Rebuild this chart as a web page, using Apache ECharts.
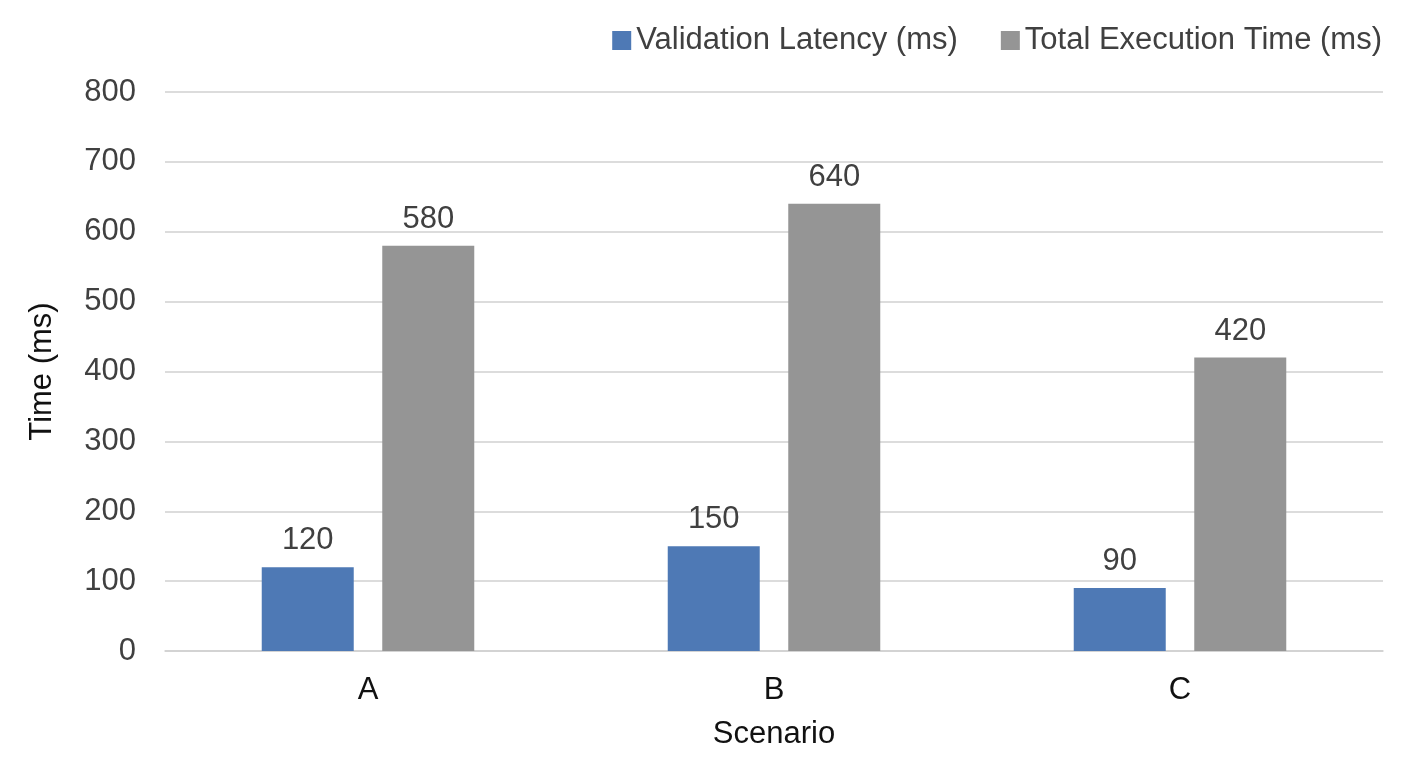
<!DOCTYPE html>
<html>
<head>
<meta charset="utf-8">
<script src="https://cdn.jsdelivr.net/npm/echarts@6/dist/echarts.min.js"></script>
<style>
  html, body { margin: 0; padding: 0; background: #fff; }
  #chart { width: 1408px; height: 768px; }
</style>
</head>
<body>
<div id="chart"></div>
<script>
const scenarios = ['A', 'B', 'C']
const validationLatency = [120, 150, 90]
const totalExecution = [580, 640, 420]
const yTicks = { min: 0, max: 800, interval: 100 }

const font = 'Liberation Sans, Arial, sans-serif'
const textColor = '#404040'
const fs = 31

const chart = echarts.init(document.getElementById('chart'))
chart.setOption({
  animation: false,
  textStyle: { fontFamily: font },
  legend: {
    top: 20,
    right: 21,
    itemWidth: 19,
    itemHeight: 19,
    itemGap: 43,
    icon: 'rect',
    textStyle: { fontSize: fs, color: textColor, fontFamily: font }
  },
  grid: { left: 165, right: 25, top: 92, bottom: 117 },
  xAxis: {
    type: 'category',
    data: scenarios,
    name: 'Scenario',
    nameLocation: 'middle',
    nameGap: 68,
    nameTextStyle: { fontSize: fs, color: '#111', fontFamily: font },
    axisLine: { lineStyle: { color: '#d0d0d0', width: 1.5 } },
    axisTick: { show: false },
    axisLabel: { fontSize: fs, color: '#111', margin: 24, fontFamily: font }
  },
  yAxis: {
    type: 'value',
    min: yTicks.min,
    max: yTicks.max,
    interval: yTicks.interval,
    name: 'Time (ms)',
    nameLocation: 'middle',
    nameGap: 107,
    nameRotate: 90,
    nameTextStyle: { fontSize: fs, color: '#111', fontFamily: font },
    axisLine: { show: false },
    axisTick: { show: false },
    axisLabel: { fontSize: fs, color: textColor, margin: 29, fontFamily: font },
    splitLine: { lineStyle: { color: '#d0d0d0', width: 1.5 } }
  },
  series: [
    {
      name: 'Validation Latency (ms)',
      type: 'bar',
      data: validationLatency,
      barWidth: 92,
      barGap: '31%',
      itemStyle: { color: '#4e79b5' },
      label: { show: true, position: 'top', distance: 11, fontSize: fs, color: textColor, fontFamily: font }
    },
    {
      name: 'Total Execution Time (ms)',
      type: 'bar',
      data: totalExecution,
      barWidth: 92,
      itemStyle: { color: '#959595' },
      label: { show: true, position: 'top', distance: 11, fontSize: fs, color: textColor, fontFamily: font }
    }
  ]
})
</script>
</body>
</html>
